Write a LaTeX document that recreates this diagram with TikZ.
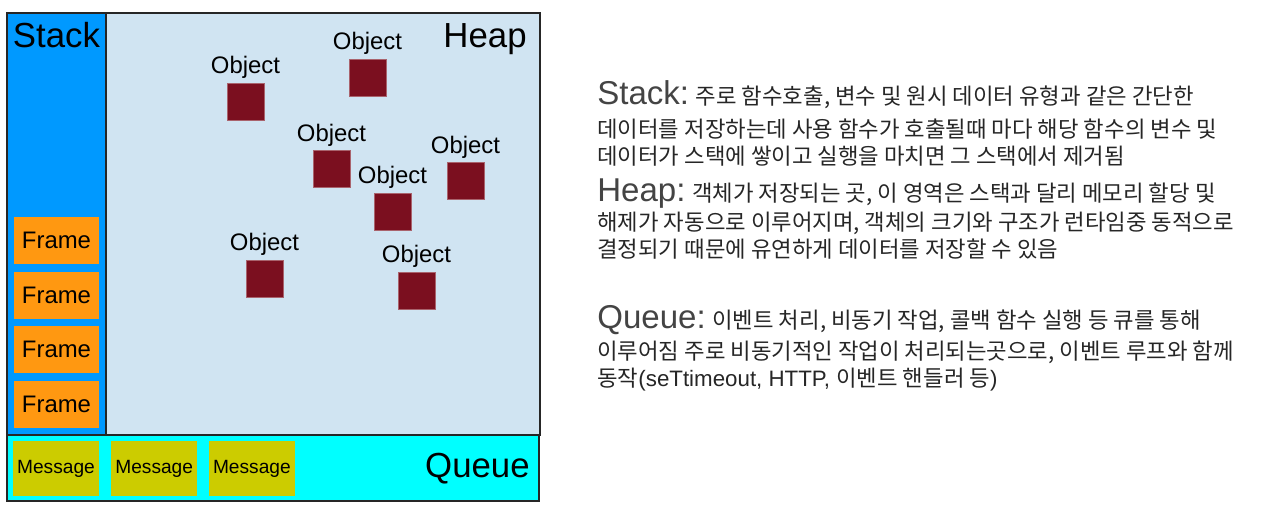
\documentclass[tikz,border=0pt]{standalone}
\usepackage{fontspec}
\setmainfont{Liberation Sans}
\newfontfamily\krfont{Noto Sans CJK KR}
\usetikzlibrary{positioning}

\definecolor{stackblue}{HTML}{0099FF}
\definecolor{heapblue}{HTML}{D0E4F2}
\definecolor{queuecyan}{HTML}{00FFFF}
\definecolor{frameorange}{HTML}{FF9811}
\definecolor{msgyellow}{HTML}{CCCC00}
\definecolor{objred}{HTML}{7B0F1F}
\definecolor{textgray}{HTML}{444444}

\begin{document}
\begin{tikzpicture}[x=0.02cm,y=-0.02cm,
  area/.style={draw=black!85,line width=1.1pt},
  title/.style={inner sep=0,font=\fontsize{19.8}{22}\selectfont},
  stackframe/.style={fill=frameorange,minimum width=1.7cm,minimum height=0.94cm,
    inner sep=0,font=\fontsize{13.6}{15}\selectfont},
  msg/.style={fill=msgyellow,minimum width=1.72cm,minimum height=1.1cm,
    inner sep=0,font=\fontsize{10.9}{12}\selectfont},
  obj/.style={fill=objred,draw=objred!65!white,line width=0.4pt,
    minimum size=0.74cm,inner sep=0},
  objtxt/.style={inner sep=0,font=\fontsize{13.6}{15}\selectfont},
  head/.style={inner sep=0,anchor=base west,text=textgray,
    font=\fontsize{18.8}{20}\selectfont},
  kr/.style={inner sep=0,anchor=base west,text=black!85,
    font=\krfont\fontsize{12.7}{15}\selectfont}]
  \useasboundingbox (0,0) rectangle (1280,506);

  % memory areas
  \draw[area,fill=heapblue] (106,13) rectangle (540,435);
  \draw[area,fill=stackblue] (7,13) rectangle (106,435);
  \draw[area,fill=queuecyan] (7,435) rectangle (539,501);
  \node[title,anchor=base] (stack) at (56.5,48) {Stack};
  \node[title,anchor=base east] (heap) at (527,48) {Heap};
  \node[title,anchor=base east] (queue) at (530,477) {Queue};

  % stack frames
  \node[stackframe] (f4) at (56.5,404.5) {Frame};
  \node[stackframe] (f3) [above=0.14cm of f4] {Frame};
  \node[stackframe] (f2) [above=0.14cm of f3] {Frame};
  \node[stackframe] (f1) [above=0.14cm of f2] {Frame};

  % messages
  \node[msg] (m1) at (56,468.5) {Message};
  \node[msg] (m2) [right=0.23cm of m1] {Message};
  \node[msg] (m3) [right=0.22cm of m2] {Message};

  % heap objects
  \foreach \n/\px/\py in {1/245.5/101.5,2/367.5/77.5,3/331.5/169,
      4/392.5/211.5,5/465.5/181,6/264.5/278.5,7/416.5/290.5} {
    \node[obj] (o\n) at (\px,\py) {};
    \node[objtxt,above=0.07cm of o\n] (t\n) {Object};
  }

  % explanation
  \node[head] (hs) at (597,105) {Stack:};
  \node[kr] (s1) at ([xshift=0.12cm]hs.base east) {주로 함수호출, 변수 및 원시 데이터 유형과 같은 간단한};
  \node[kr] (s2) at (597,138) {데이터를 저장하는데 사용 함수가 호출될때 마다 해당 함수의 변수 및};
  \node[kr] (s3) at (597,165) {데이터가 스택에 쌓이고 실행을 마치면 그 스택에서 제거됨};

  \node[head] (hh) at (597,202) {Heap:};
  \node[kr] (h1) at ([xshift=0.12cm]hh.base east) {객체가 저장되는 곳, 이 영역은 스택과 달리 메모리 할당 및};
  \node[kr] (h2) at (597,231) {해제가 자동으로 이루어지며, 객체의 크기와 구조가 런타임중 동적으로};
  \node[kr] (h3) at (597,258) {결정되기 때문에 유연하게 데이터를 저장할 수 있음};

  \node[head] (hq) at (597,328) {Queue:};
  \node[kr] (q1) at ([xshift=0.12cm]hq.base east) {이벤트 처리, 비동기 작업, 콜백 함수 실행 등 큐를 통해};
  \node[kr] (q2) at (597,359) {이루어짐 주로 비동기적인 작업이 처리되는곳으로, 이벤트 루프와 함께};
  \node[kr] (q3) at (597,386) {동작{\normalfont(seTtimeout, HTTP, }이벤트 핸들러 등{\normalfont)}};
\end{tikzpicture}
\end{document}
